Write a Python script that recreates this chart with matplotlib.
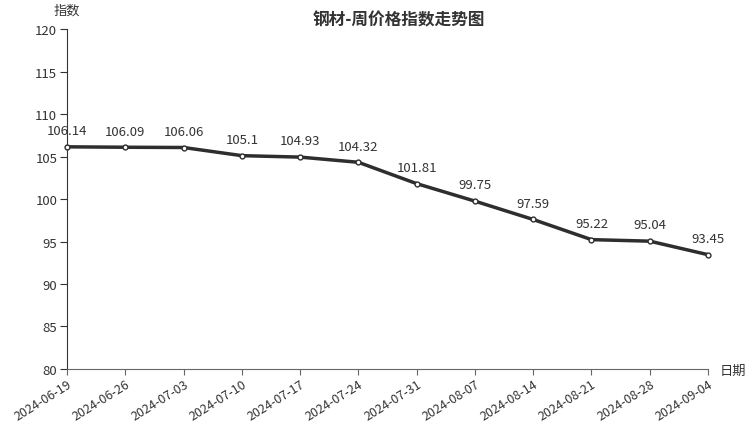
import matplotlib
matplotlib.use("Agg")
import matplotlib.pyplot as plt

plt.rcParams['font.family'] = ['Noto Sans CJK SC', 'DejaVu Sans']

dates = ["2024-06-19", "2024-06-26", "2024-07-03", "2024-07-10", "2024-07-17", "2024-07-24",
         "2024-07-31", "2024-08-07", "2024-08-14", "2024-08-21", "2024-08-28", "2024-09-04"]
values = [106.14, 106.09, 106.06, 105.1, 104.93, 104.32, 101.81, 99.75, 97.59, 95.22, 95.04, 93.45]
labels = ["106.14", "106.09", "106.06", "105.1", "104.93", "104.32",
          "101.81", "99.75", "97.59", "95.22", "95.04", "93.45"]
yticks = [80, 85, 90, 95, 100, 105, 110, 115, 120]

fig = plt.figure(figsize=(7.52, 4.27), dpi=100)
ax = fig.add_axes([0.0891, 0.1335, 0.8524, 0.7962])

x = list(range(len(dates)))
ax.plot(x, values, color="#2e2e2e", lw=2.5, marker="o", ms=3.5,
        mfc="white", mec="#2e2e2e", mew=1, zorder=3, clip_on=False)
for xi, v, s in zip(x, values, labels):
    ax.annotate(s, (xi, v), xytext=(0, 7), textcoords="offset points",
                ha="center", va="bottom", fontsize=9.5, color="#333333")

ax.set_xlim(0, len(dates) - 1)
ax.set_ylim(80, 120)
ax.set_yticks(yticks)
ax.set_xticks(x)
ax.set_xticklabels(dates, rotation=32, ha="right", rotation_mode="anchor")

for sp in ["top", "right"]:
    ax.spines[sp].set_visible(False)
ax.spines["left"].set_color("#333333")
ax.spines["bottom"].set_color("#666666")
ax.tick_params(axis="y", length=5, color="#333333", labelsize=9.5, labelcolor="#333333", pad=2)
ax.tick_params(axis="x", length=4, color="#666666", labelsize=9, labelcolor="#333333", pad=2)

fig.text(0.0891, 0.975, "指数", ha="center", va="center", fontsize=9.5, color="#333333")
fig.text(0.975, 0.13, "日期", ha="center", va="center", fontsize=9.5, color="#333333")
fig.text(0.53, 0.953, "钢材-周价格指数走势图", ha="center", va="center",
         fontsize=12, fontweight="bold", color="#333333")

fig.savefig("out.png", dpi=100)
